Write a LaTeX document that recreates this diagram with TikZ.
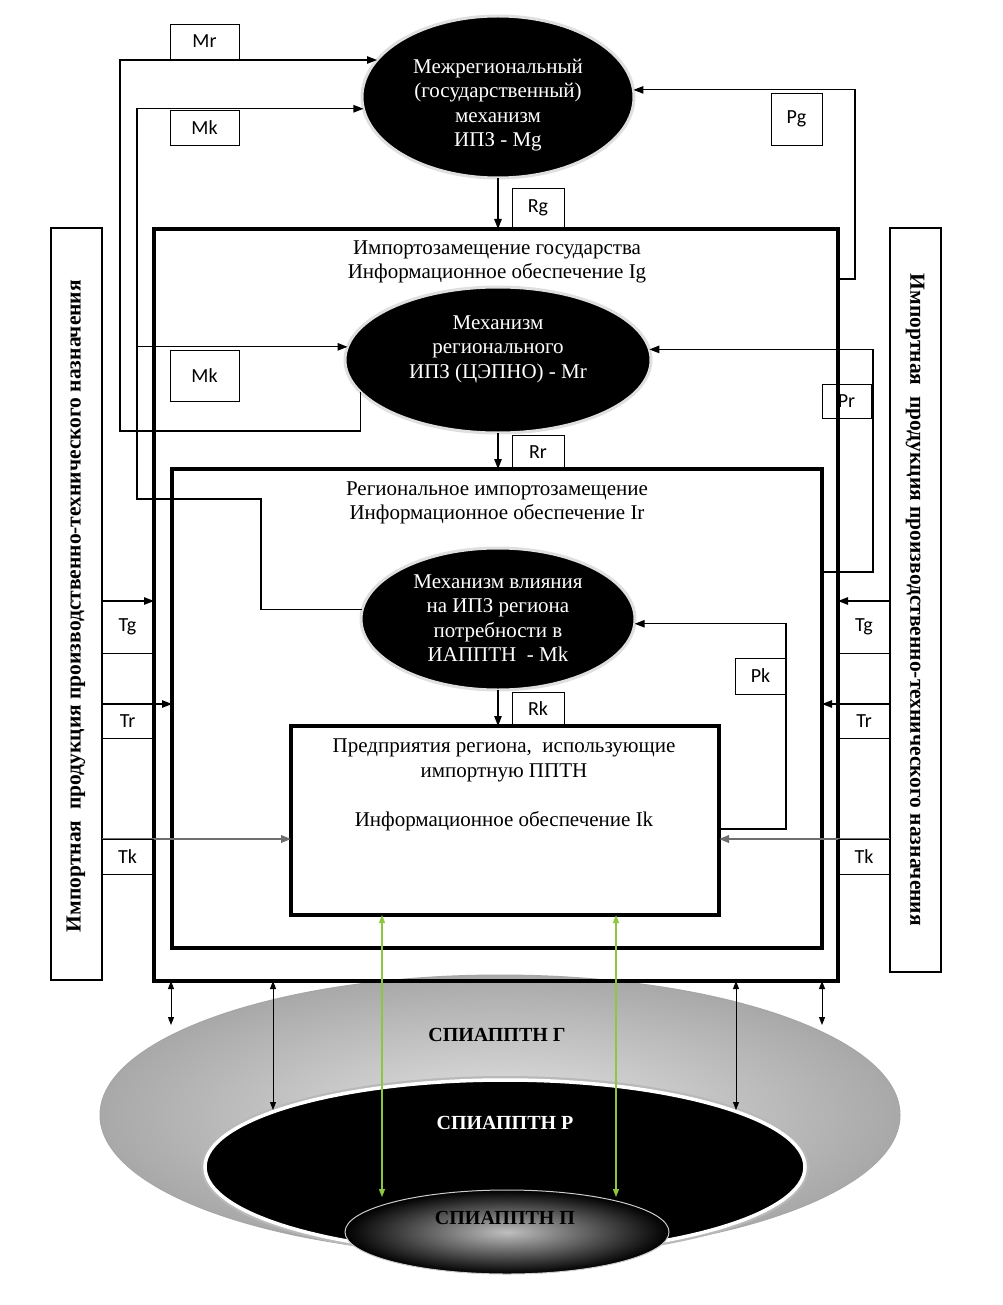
\documentclass[tikz,border=0pt]{standalone}
\usepackage{fontspec}
\setmainfont{Liberation Serif}
\newfontfamily\labfont{Carlito}
\usetikzlibrary{arrows.meta,shapes.geometric}
\definecolor{lgreen}{RGB}{141,198,63}
\definecolor{tkgray}{RGB}{110,110,110}
\begin{document}
\begin{tikzpicture}[x=1pt,y=-1pt,
  every node/.style={inner sep=0pt, outer sep=0pt},
  ell/.style={ellipse, fill=black, draw=gray!25, line width=3pt},
  etext/.style={text=white, align=center, font=\fontsize{21}{24.5}\selectfont},
  btext/.style={align=center, font=\fontsize{21}{24.5}\selectfont},
  lab/.style={draw, line width=0.9pt, font=\labfont\fontsize{20}{22}\selectfont, anchor=north west},
  thickbox/.style={draw, line width=3.5pt, anchor=north west},
  sidebox/.style={draw, line width=1.2pt, anchor=north west, minimum width=51pt},
  sidetext/.style={font=\bfseries\fontsize{21.5}{24}\selectfont},
  arr/.style={-{Triangle[length=10pt,width=7.5pt]}, line width=1.2pt},
  tkarr/.style={-{Triangle[length=10pt,width=7.5pt]}, line width=2pt, draw=tkgray},
  dbl/.style={{Triangle[length=8pt,width=6pt]}-{Triangle[length=8pt,width=6pt]}, line width=1pt},
  gdbl/.style={{Triangle[length=8pt,width=6pt]}-{Triangle[length=8pt,width=6pt]}, line width=1.2pt, draw=lgreen, fill=lgreen},
  dishtext/.style={font=\bfseries\fontsize{20}{24}\selectfont}
]
\useasboundingbox (0,0) rectangle (1002,1305);

% ---------- bottom dish ----------
\node[ellipse, minimum width=800pt, minimum height=280pt, inner color=gray!22, outer color=gray!68, draw=gray!70, line width=1pt] (G) at (500,1115) {};
\node[ellipse, minimum width=600pt, minimum height=174pt, fill=black, draw=white, line width=3.5pt, preaction={draw=gray!55, line width=8pt}] (P) at (505,1167) {};
\node[ellipse, minimum width=324pt, minimum height=84pt, inner color=gray!50, outer color=black, draw=gray!40, line width=1pt] (S) at (507,1232) {};
\node[dishtext] (GT) at (497,1035) {СПИАППТН Г};
\node[dishtext, text=white] (PT) at (505,1123) {СПИАППТН Р};
\node[dishtext] (ST) at (505,1218) {СПИАППТН П};

% ---------- boxes ----------
\node[thickbox, minimum width=684pt, minimum height=752pt] (Ig) at (154,229) {};
\node[thickbox, minimum width=650pt, minimum height=479pt] (Ir) at (172,469) {};
\node[thickbox, minimum width=428pt, minimum height=189pt] (Ent) at (291,726) {};
\node[btext] (IgT) at (497,262) {Импортозамещение государства\\Информационное обеспечение Ig};
\node[btext] (IrT) at (497,503) {Региональное импортозамещение\\Информационное обеспечение Ir};
\node[btext] (EntT) at (504,785) {Предприятия региона,~ использующие\\импортную ППТН\\[25pt]Информационное обеспечение Ik};

% ---------- side boxes ----------
\node[sidebox, minimum height=752pt] (LB) at (51,228) {};
\node[sidebox, minimum height=744pt] (RB) at (890,228) {};
\node[sidetext, rotate=90] (LT) at (76,606) {Импортная~ продукция производственно-технического назначения};
\node[sidetext, rotate=-90] (RT) at (915,600) {Импортная~ продукция производственно-технического назначения};

% ---------- mechanisms ----------
\node[ell, minimum width=272pt, minimum height=162pt] (Mg) at (498,97) {};
\node[ell, minimum width=306pt, minimum height=146pt] (Mr) at (498,360) {};
\node[ell, minimum width=274pt, minimum height=142pt] (Mk) at (498,619) {};
\node[etext] (MgT) at (498,105) {Межрегиональный\\(государственный)\\механизм\\ИПЗ - Mg};
\node[etext] (MrT) at (498,349) {Механизм\\регионального\\ИПЗ (ЦЭПНО) - Mr};
\node[etext] (MkT) at (498,618) {Механизм влияния\\на ИПЗ региона\\потребности в\\ИАППТН~ - Mk};

% ---------- downward R arrows ----------
\draw[arr] (Mg.south) -- (Mg.south |- Ig.north);
\draw[arr] (Mr.south) -- (Mr.south |- Ir.north);
\draw[arr] (Mk.south) -- (Mk.south |- Ent.north);

% ---------- feedback M lines ----------
\coordinate (mrA) at (120,431);
\draw[arr] (Mr.193) |- (mrA) |- (Mg.163);
\coordinate (mkA) at (261,499);
\coordinate (mkB) at (137,499);
\draw[arr] (Mk.176) -| (mkA) -- (mkB) |- (Mg.185);
\draw[arr] (Mr.175 -| mkB) -- (Mr.175);

% ---------- P lines ----------
\coordinate (pgA) at (855,279);
\draw[arr] (pgA -| Ig.east) -- (pgA) |- (Mg.3);
\coordinate (prA) at (873,572);
\draw[arr] (prA -| Ir.east) -- (prA) |- (Mr.4);
\coordinate (pkA) at (786,829);
\draw[arr] (pkA -| Ent.east) -- (pkA) |- (Mk.358);

% ---------- T lines ----------
\coordinate (tgL) at (102,601);
\coordinate (trL) at (102,704);
\coordinate (tkL) at (102,839);
\coordinate (tgR) at (890,601);
\coordinate (trR) at (890,704);
\coordinate (tkR) at (890,839);
\draw[arr] (tgL) -- (tgL -| Ig.west);
\draw[arr] (trL) -- (trL -| Ir.west);
\draw[tkarr] (tkL) -- (tkL -| Ent.west);
\draw[arr] (tgR) -- (tgR -| Ig.east);
\draw[arr] (trR) -- (trR -| Ir.east);
\draw[tkarr] (tkR) -- (tkR -| Ent.east);

% ---------- labels ----------
\node[lab, minimum width=69pt, minimum height=35pt] (lMr) at (170,24) {Mr};
\node[lab, minimum width=69pt, minimum height=35pt] (lMk1) at (170,110) {Mk};
\node[lab, minimum width=51pt, minimum height=52pt] (lPg) at (771,93) {Pg};
\node[lab, minimum width=52pt, minimum height=40pt] (lRg) at (512,188) {Rg};
\node[lab, minimum width=69pt, minimum height=51pt] (lMk2) at (170,350) {Mk};
\node[lab, minimum width=49pt, minimum height=34pt] (lPr) at (822,384) {Pr};
\node[lab, minimum width=52pt, minimum height=34pt] (lRr) at (512,435) {Rr};
\node[lab, minimum width=51pt, minimum height=36pt] (lPk) at (735,658) {Pk};
\node[lab, minimum width=52pt, minimum height=33pt] (lRk) at (512,692) {Rk};
\node[lab, minimum width=51pt, minimum height=52pt] (lTgL) at (102,601) {Tg};
\node[lab, minimum width=51pt, minimum height=34pt] (lTrL) at (102,704) {Tr};
\node[lab, minimum width=51pt, minimum height=35pt] (lTkL) at (102,839) {Tk};
\node[lab, minimum width=52pt, minimum height=52pt] (lTgR) at (838,601) {Tg};
\node[lab, minimum width=52pt, minimum height=34pt] (lTrR) at (838,704) {Tr};
\node[lab, minimum width=52pt, minimum height=35pt] (lTkR) at (838,839) {Tk};

% ---------- bottom links ----------
\coordinate (d1) at (171,1025);
\coordinate (d2) at (273,1110);
\coordinate (d3) at (736,1110);
\coordinate (d4) at (822,1025);
\draw[dbl] (d1 |- Ig.south) -- (d1);
\draw[dbl] (d2 |- Ig.south) -- (d2);
\draw[dbl] (d3 |- Ig.south) -- (d3);
\draw[dbl] (d4 |- Ig.south) -- (d4);
\coordinate (g1) at (382,1197);
\coordinate (g2) at (616,1197);
\draw[gdbl] (g1 |- Ent.south) -- (g1);
\draw[gdbl] (g2 |- Ent.south) -- (g2);
\end{tikzpicture}
\end{document}
